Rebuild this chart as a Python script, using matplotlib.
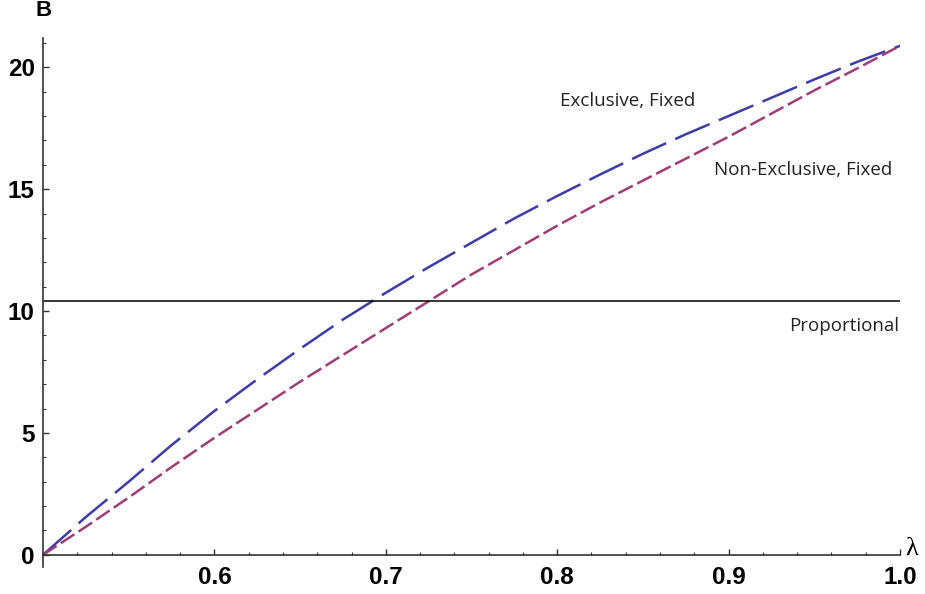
import numpy as np
import matplotlib
matplotlib.use("Agg")
import matplotlib.pyplot as plt
from matplotlib.ticker import MultipleLocator, FixedLocator

# lambda grid and the two fixed-scheme curves
lam = [0.500, 0.525, 0.550, 0.575, 0.600, 0.625, 0.650, 0.675, 0.700, 0.725, 0.750,
       0.775, 0.800, 0.825, 0.850, 0.875, 0.900, 0.925, 0.950, 0.975, 1.000]
exclusive_fixed = [0.0, 1.55, 3.0, 4.5, 5.9, 7.2, 8.45, 9.65, 10.75, 11.8, 12.8,
                   13.8, 14.72, 15.6, 16.45, 17.25, 18.0, 18.75, 19.5, 20.22, 20.88]
nonexclusive_fixed = [0.0, 1.15, 2.35, 3.6, 4.8, 5.95, 7.1, 8.2, 9.3, 10.4, 11.5,
                      12.5, 13.5, 14.45, 15.35, 16.25, 17.15, 18.1, 19.05, 19.95, 20.88]
proportional = 10.43

x_ticks = [0.6, 0.7, 0.8, 0.9, 1.0]
x_tick_labels = ["0.6", "0.7", "0.8", "0.9", "1.0"]
y_ticks = [0, 5, 10, 15, 20]
y_tick_labels = ["0", "5", "10", "15", "20"]

W, H = 925, 594
fig = plt.figure(figsize=(W / 100, H / 100), dpi=100)
ax = fig.add_axes([43 / W, 1 - 567 / H, (900 - 43) / W, (567 - 38) / H])

blue = "#3c3caa"
magenta = "#a03c78"

ax.plot(lam, exclusive_fixed, color=blue, lw=1.8, dashes=(15, 4))
ax.plot(lam, nonexclusive_fixed, color=magenta, lw=1.8, dashes=(6.5, 2))
ax.axhline(proportional, color="black", lw=1.1)

ax.set_xlim(0.5, 1.0)
ax.set_ylim(-0.5, 21.2)

for s in ("top", "right"):
    ax.spines[s].set_visible(False)
ax.spines["bottom"].set_position(("data", 0))
for s in ("left", "bottom"):
    ax.spines[s].set_color("#333333")
    ax.spines[s].set_linewidth(1.2)

tick_font = dict(family="Liberation Sans", weight="bold", size=17.5)
ax.xaxis.set_major_locator(FixedLocator(x_ticks))
ax.set_xticklabels(x_tick_labels, **tick_font)
ax.xaxis.set_minor_locator(MultipleLocator(0.02))
ax.yaxis.set_major_locator(FixedLocator(y_ticks))
ax.set_yticklabels(y_tick_labels, **tick_font)
ax.yaxis.set_minor_locator(MultipleLocator(1))

ax.tick_params(axis="both", which="major", direction="in", length=4, width=1, color="#333333")
ax.tick_params(axis="both", which="minor", direction="in", length=2.5, width=0.8, color="#333333")
ax.tick_params(axis="x", which="major", pad=8)
ax.tick_params(axis="y", which="major", pad=6)

label_font = dict(family="Open Sans", size=13.5, color="#222222")
ax.text(0.8413, 18.6, "Exclusive, Fixed", ha="center", va="center", **label_font)
ax.text(0.9434, 15.77, "Non-Exclusive, Fixed", ha="center", va="center", **label_font)
ax.text(0.9673, 9.40, "Proportional", ha="center", va="center", **label_font)

fig.text(912 / W, 1 - 549 / H, "λ", family="Liberation Serif", size=19, ha="center", va="center")
fig.text(44 / W, 1 - 11 / H, "B", family="Liberation Sans", weight="bold", size=16, ha="center", va="center")

fig.savefig("out.png", dpi=100)
